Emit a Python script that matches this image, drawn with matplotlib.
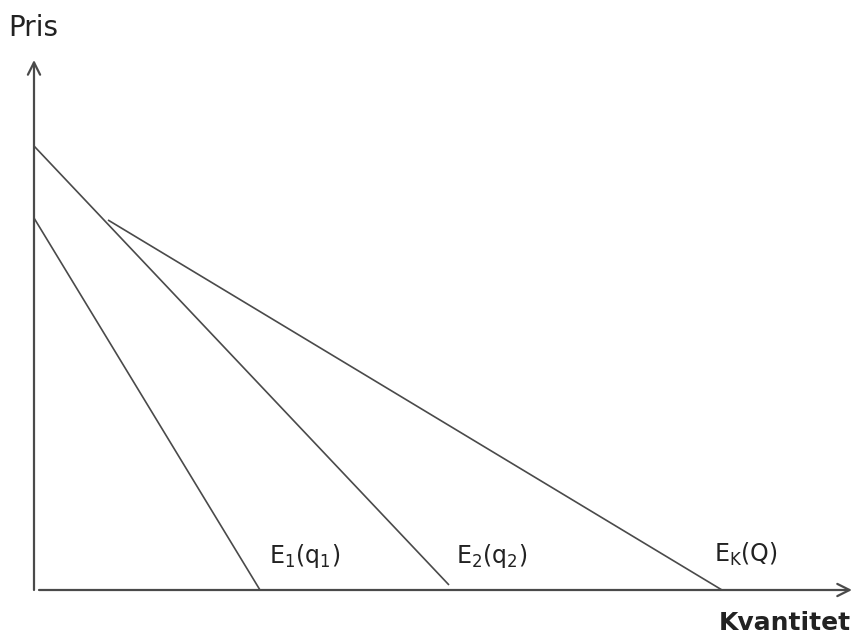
import matplotlib
matplotlib.use("Agg")
import matplotlib.pyplot as plt

plt.rcParams['font.family'] = ['DejaVu Sans']
plt.rcParams['mathtext.fontset'] = 'dejavusans'

# Demand curves: (quantity, price) end points
e1_q = [0.0, 22.6]
e1_p = [37.2, 0.0]
e2_q = [0.0, 41.5]
e2_p = [44.4, 0.5]
ek_q = [7.4, 68.8]
ek_p = [37.0, 0.0]

labels = [r'$\mathrm{E_1(q_1)}$', r'$\mathrm{E_2(q_2)}$', r'$\mathrm{E_K(Q)}$']
label_q = [23.5, 42.2, 68.0]
label_p = [3.4, 3.4, 3.6]

line_col = '#4a4a4a'
text_col = '#222222'

fig = plt.figure(figsize=(8.53, 6.40), dpi=100)
ax = fig.add_axes([0, 0, 1, 1])
ax.set_xlim(-3.4, 81.9)
ax.set_ylim(-5.0, 59.0)
ax.axis('off')

# Axes with open arrow heads
ax.annotate('', xy=(0, 53.0), xytext=(0, 0), xycoords='data',
            arrowprops=dict(arrowstyle='->', color=line_col, lw=1.6,
                            mutation_scale=22, shrinkA=0, shrinkB=0))
ax.annotate('', xy=(81.8, 0), xytext=(0.5, 0), xycoords='data',
            arrowprops=dict(arrowstyle='->', color=line_col, lw=1.6,
                            mutation_scale=22, shrinkA=0, shrinkB=0))

for q, p in [(e1_q, e1_p), (e2_q, e2_p), (ek_q, ek_p)]:
    ax.plot(q, p, color=line_col, lw=1.2, solid_capstyle='butt')

for lab, q, p in zip(labels, label_q, label_p):
    ax.text(q, p, lab, fontsize=17, color=text_col, ha='left', va='center')

ax.text(-2.6, 56.2, 'Pris', fontsize=20, color=text_col, ha='left', va='center')
ax.text(81.7, -3.3, 'Kvantitet', fontsize=18, color=text_col, ha='right',
        va='center', fontweight='bold')

fig.savefig('out.png', dpi=100)
